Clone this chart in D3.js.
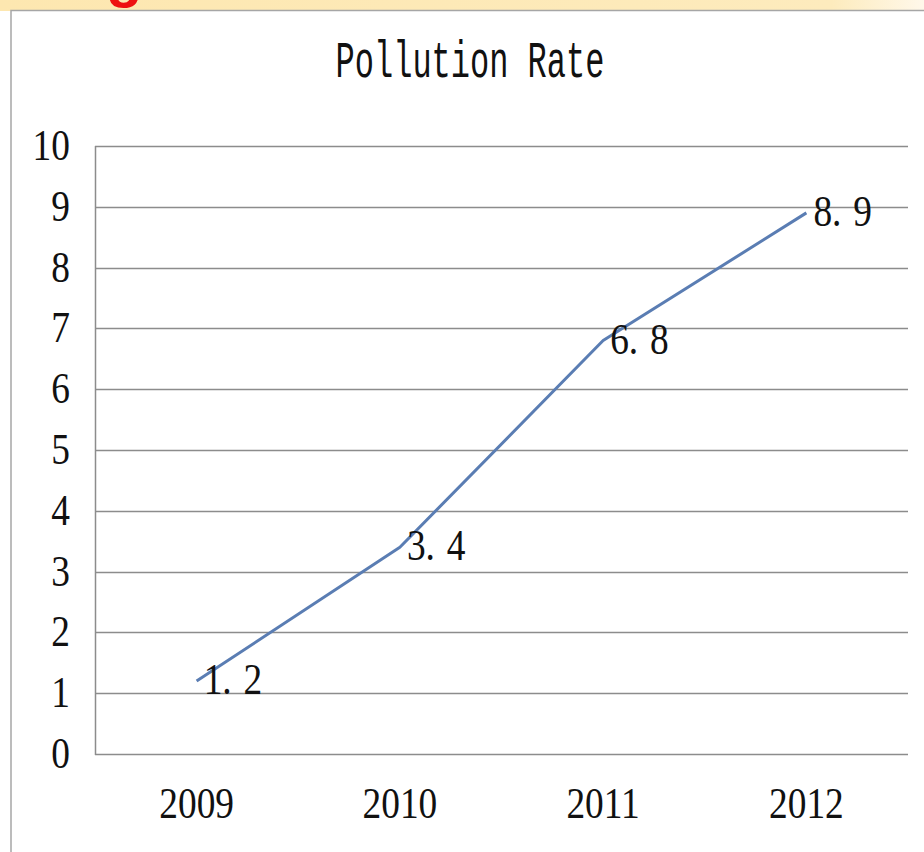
<!DOCTYPE html>
<html>
<head>
<meta charset="utf-8">
<script src="https://cdn.jsdelivr.net/npm/d3@7"></script>
<style>
  html, body { margin: 0; padding: 0; background: #ffffff; }
  svg { display: block; }
</style>
</head>
<body>
<script>
// Pollution rate by year
const years = ["2009", "2010", "2011", "2012"];
const rates = [1.2, 3.4, 6.8, 8.9];
const yTicks = [0, 1, 2, 3, 4, 5, 6, 7, 8, 9, 10];
const chartTitle = "Pollution Rate";

const W = 924, H = 852;
const plot = { left: 95, right: 908, top: 146, bottom: 754 };

const svg = d3.select("body").append("svg")
  .attr("width", W).attr("height", H);

// header strip with a soft yellow fill
const defs = svg.append("defs");
const grad = defs.append("linearGradient").attr("id", "band")
  .attr("x1", "0").attr("x2", "1").attr("y1", "0").attr("y2", "0");
grad.append("stop").attr("offset", "0").attr("stop-color", "#fde7b0");
grad.append("stop").attr("offset", "0.9").attr("stop-color", "#fdebbd");
grad.append("stop").attr("offset", "1").attr("stop-color", "#fff8ea");
svg.append("rect").attr("x", 0).attr("y", 0).attr("width", W).attr("height", 11)
  .attr("fill", "url(#band)");
// tail of the red heading above the strip
svg.append("text")
  .attr("x", 106).attr("y", -4)
  .attr("font-family", "Liberation Sans, Arial, sans-serif")
  .attr("font-weight", "bold")
  .attr("font-size", 60)
  .attr("fill", "#ee1111")
  .text("g");

// chart panel
svg.append("rect")
  .attr("x", 11).attr("y", 10.5).attr("width", W + 20).attr("height", H + 20)
  .attr("fill", "#ffffff").attr("stroke", "#a6a6a6").attr("stroke-width", 1.5);

const x = d3.scaleBand().domain(years).range([plot.left, plot.right]);
const y = d3.scaleLinear().domain([0, 10]).range([plot.bottom, plot.top]);

const serif = "Liberation Serif, Times New Roman, serif";
const fs = 44, sx = 0.85;

// horizontal gridlines
svg.append("g").selectAll("line").data(yTicks).join("line")
  .attr("x1", plot.left).attr("x2", plot.right)
  .attr("y1", d => Math.round(y(d)) + 0.5).attr("y2", d => Math.round(y(d)) + 0.5)
  .attr("stroke", "#8c8c8c").attr("stroke-width", 1.5);

// vertical axis line
svg.append("line")
  .attr("x1", plot.left + 0.5).attr("x2", plot.left + 0.5)
  .attr("y1", plot.top).attr("y2", plot.bottom + 1)
  .attr("stroke", "#8c8c8c").attr("stroke-width", 1.5);

// y tick labels
svg.append("g").selectAll("text").data(yTicks).join("text")
  .attr("transform", d => `translate(70,${y(d) + 14}) scale(${sx},1)`)
  .attr("text-anchor", "end")
  .attr("font-family", serif).attr("font-size", fs)
  .attr("fill", "#111")
  .text(d => d);

// x category labels
svg.append("g").selectAll("text").data(years).join("text")
  .attr("transform", d => `translate(${x(d) + x.bandwidth() / 2},818) scale(${sx},1)`)
  .attr("text-anchor", "middle")
  .attr("font-family", serif).attr("font-size", fs)
  .attr("fill", "#111")
  .text(d => d);

// title in a tall, condensed monospace face
svg.append("text")
  .attr("transform", "translate(470,77) scale(0.8,1.28)")
  .attr("text-anchor", "middle")
  .attr("font-family", "Liberation Mono, Courier New, monospace")
  .attr("font-size", 40)
  .attr("fill", "#111")
  .text(chartTitle);

// data line
const pts = years.map((yr, i) => ({ yr, v: rates[i] }));
const line = d3.line()
  .x(d => x(d.yr) + x.bandwidth() / 2)
  .y(d => y(d.v));
svg.append("path").datum(pts)
  .attr("d", line)
  .attr("fill", "none")
  .attr("stroke", "#5a7db3")
  .attr("stroke-width", 3)
  .attr("stroke-linejoin", "round");

// value labels to the right of each point; the decimal point sits in a wide cell
const labels = svg.append("g").selectAll("text").data(pts).join("text")
  .attr("transform", d => `translate(${x(d.yr) + x.bandwidth() / 2 + 7},${y(d.v) + 13}) scale(${sx},1)`)
  .attr("font-family", serif).attr("font-size", fs)
  .attr("fill", "#111");
labels.append("tspan").text(d => d.v.toFixed(1).split(".")[0] + ".");
labels.append("tspan").attr("dx", 14).text(d => d.v.toFixed(1).split(".")[1]);
</script>
</body>
</html>
